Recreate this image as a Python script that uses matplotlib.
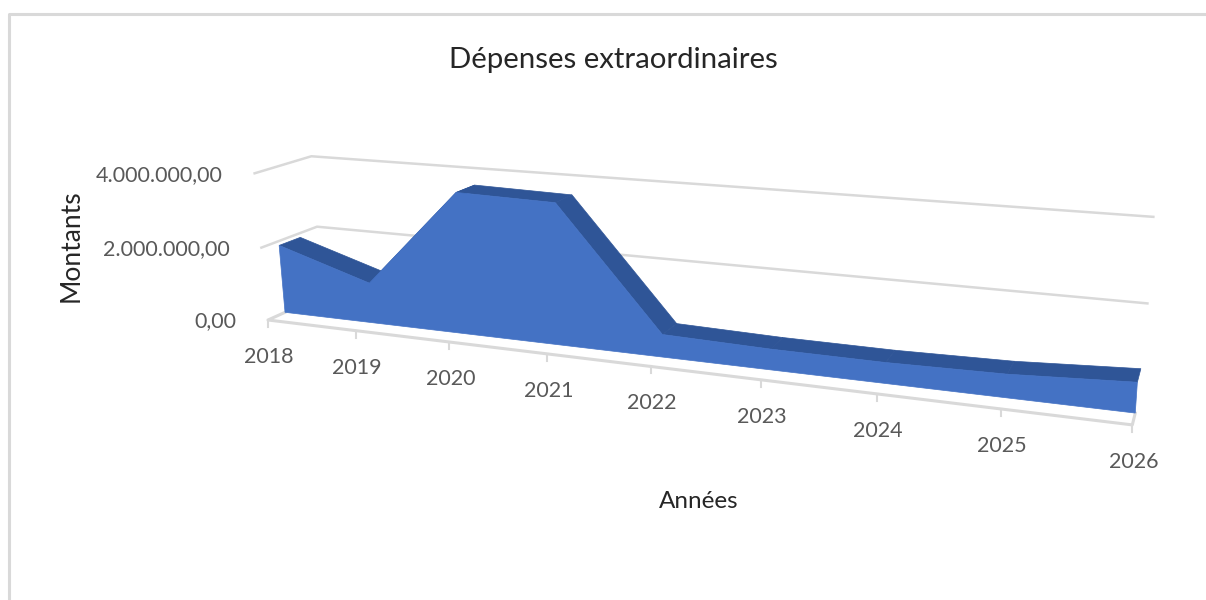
import numpy as np
import matplotlib
matplotlib.use('Agg')
import matplotlib.pyplot as plt

years = [2018, 2019, 2020, 2021, 2022, 2023, 2024, 2025, 2026]
montants = [1880000, 1090000, 3730000, 3670000, 580000, 520000, 510000, 560000, 710000]
yTicks = [0, 2000000, 4000000]
yTickLabels = ['0,00', '2.000.000,00', '4.000.000,00']

blueFront = '#4472C4'
blueTop = '#2F5597'
gridColor = '#D9D9D9'
textColor = '#595959'
titleColor = '#262626'

# perspective camera of the 3D chart: (year index, millions, depth) -> pixels
camera = np.array([
	[79.2, -5.0, 73.2, 268.0],
	[2.29, -37.8, -7.6, 320.0],
	[-0.02547, -0.0065, 0.0576, 1.0],
])

def project(t, value, depth):
	t, value, depth = np.broadcast_arrays(np.asarray(t, float), np.asarray(value, float) / 1e6, np.asarray(depth, float))
	pts = np.stack([t, value, depth, np.ones_like(t)])
	res = np.tensordot(camera, pts, axes=1)
	return res[0] / res[2], res[1] / res[2]

plt.rcParams['font.family'] = ['Lato', 'DejaVu Sans']
fig = plt.figure(figsize=(12.06, 6), dpi=100)
ax = fig.add_axes([0, 0, 1, 1])
ax.set_xlim(0, 1206)
ax.set_ylim(600, 0)
ax.axis('off')

# outer frame of the screenshot
ax.plot([8.5, 8.5, 1206], [600, 13.5, 13.5], color=gridColor, lw=2.2)

idx = np.arange(len(years))
last = idx[-1]
frontDepth = 0.30
backDepth = 0.68

# walls
for tick in yTicks[1:]:
	x, y = project([0, 0, last], tick, [0, 1, 1])
	ax.plot(x, y, color=gridColor, lw=1.8, zorder=1)

# floor and ticks
x, y = project([0, 0, last, last], 0, [0.3, 0, 0, 0.3])
ax.plot(x, y, color=gridColor, lw=2.2, zorder=1)
tx, ty = project(idx, 0, 0)
for i in idx:
	ax.plot([tx[i], tx[i]], [ty[i], ty[i] + 7], color=gridColor, lw=1.5, zorder=1)
	ax.text(tx[i] + 1, ty[i] + 37, str(years[i]), color=textColor, fontsize=15.5, ha='center', va='center')

# top face, one polygon per segment, then the front face over it
for i in idx[:-1]:
	xa, ya = project([i, i + 1, i + 1, i], [montants[i], montants[i + 1], montants[i + 1], montants[i]],
		[frontDepth, frontDepth, backDepth, backDepth])
	ax.fill(xa, ya, color=blueTop, lw=0.5, zorder=2)

xTop, yTop = project(idx, montants, frontDepth)
xBottom, yBottom = project(idx, 0, frontDepth)
ax.fill(np.r_[xTop, xBottom[::-1]], np.r_[yTop, yBottom[::-1]], color=blueFront, lw=0.5, zorder=3)

# value labels follow the tilt of the axis
for tick, label in zip(yTicks, yTickLabels):
	x, y = project(0, tick, 0)
	ax.text(x - 32, y + 1.5, label, color=textColor, fontsize=15.5, ha='right', va='center')

ax.text(613.5, 60, 'Dépenses extraordinaires', color=titleColor, fontsize=21.2, ha='center', va='center')
ax.text(71, 246, 'Montants', color=titleColor, fontsize=19, rotation=90, ha='center', va='center')
ax.text(699, 501, 'Années', color=titleColor, fontsize=17.5, ha='center', va='center')

fig.savefig('out.png', dpi=100)
